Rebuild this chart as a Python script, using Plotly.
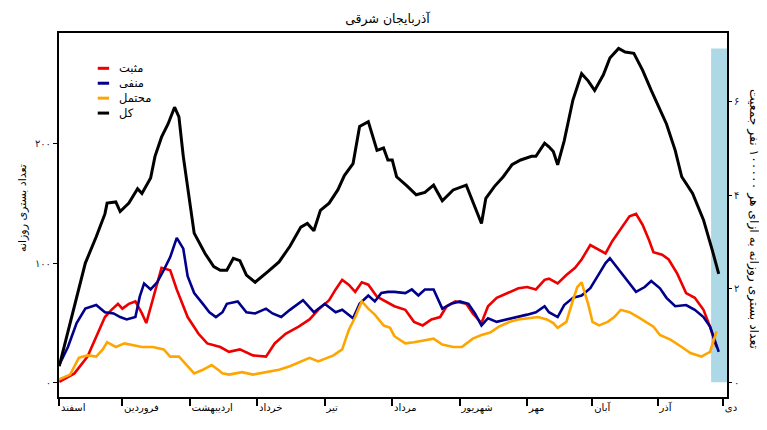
import plotly.graph_objects as go

# ---- data (days since 1 Esfand) ----
month_ticks = [0, 29, 60, 91, 122, 153, 184, 215, 245, 275, 305]
month_labels = ["اسفند", "فروردین", "اردیبهشت", "خرداد", "تیر", "مرداد",
                "شهریور", "مهر", "آبان", "آذر", "دی"]

total_day = [0,5,9,12,17,21,22,26,28,32,36,38,42,44,47,50,53,55,57,60,62,67,71,74,77,80,83,86,90,96,
             101,106,111,114,117,120,124,128,131,135,138,142,146,149,151,153,155,160,164,168,172,176,181,187,190,
             194,196,200,204,208,212,217,219,223,225,227,229,232,236,240,243,246,250,253,257,260,264,268,272,276,
             279,283,286,291,296,300,303]
total_val = [14,50,80,100,122,141,150,151,143,150,162,158,171,189,205,216,230,222,189,150,125,108,97,94,94,
             104,102,90,84,93,101,114,130,133,127,144,150,161,173,183,214,218,194,196,186,186,172,164,157,159,
             165,152,161,165,151,133,154,164,172,182,186,189,189,200,197,193,182,202,236,258,252,244,257,271,279,
             276,275,261,244,228,216,194,172,158,136,111,91]

pos_day = [0,7,13,17,21,24,27,29,32,35,38,40,43,47,51,54,59,64,68,74,78,83,89,95,99,104,110,115,119,124,
           127,130,133,136,139,142,146,149,154,159,163,167,171,175,178,182,187,190,194,197,201,206,211,215,219,
           223,225,229,233,237,240,244,248,251,254,258,262,265,268,271,273,277,280,284,288,292,296,299,302]
pos_val = [1,8,22,39,55,61,66,62,66,68,58,50,69,96,94,78,55,41,33,30,26,28,23,22,33,41,47,53,61,69,
           78,86,82,76,84,82,72,69,64,61,51,48,53,55,64,68,66,58,50,64,71,75,79,80,78,
           86,87,83,90,96,103,115,111,108,118,129,139,141,132,119,109,107,103,91,75,71,61,47,30]

neg_day = [0,4,8,12,17,21,25,28,31,35,37,39,42,45,48,51,54,57,59,62,66,69,72,75,77,82,86,90,95,98,
           102,106,112,117,122,127,130,135,138,142,145,148,151,154,159,162,165,168,172,176,180,184,188,191,194,
           197,201,206,211,215,219,223,225,229,232,236,240,244,248,251,253,256,259,262,265,269,272,276,279,283,
           288,292,296,299,303]
neg_val = [15,30,50,62,65,59,58,55,53,55,72,83,78,84,94,105,121,112,89,75,66,59,55,59,66,68,59,58,62,58,
           55,61,69,59,66,59,61,54,66,73,68,75,76,76,75,78,73,78,78,62,66,68,66,58,48,
           54,51,53,55,57,59,64,59,55,65,71,73,79,91,100,104,97,90,83,76,80,85,79,71,64,
           65,61,55,47,26]

prob_day = [0,5,9,13,17,20,22,26,30,35,38,43,48,51,55,59,62,66,70,73,75,78,84,89,95,101,106,111,115,119,
            123,126,130,133,136,139,142,145,149,152,154,159,163,168,172,176,181,185,190,194,198,202,207,211,216,
            220,224,227,229,233,236,238,240,243,245,248,252,255,258,262,266,270,273,276,281,286,290,295,299,302]
prob_val = [3,7,21,23,22,28,34,30,33,31,30,30,28,22,22,14,8,11,15,11,8,7,9,7,9,11,14,18,21,18,
            21,23,28,44,55,68,62,57,48,46,39,33,34,36,37,32,30,30,37,40,42,47,51,53,54,
            55,53,50,46,51,69,80,84,66,51,48,51,55,61,59,55,50,47,40,36,30,25,22,26,43]

left_ticks = [0, 100, 200]
left_labels = ["۰", "۱۰۰", "۲۰۰"]
right_ticks = [0, 2, 4, 6]
right_labels = ["۰", "۲", "۴", "۶"]

series_names = ["مثبت", "منفی", "محتمل", "کل"]
series_colors = ["#EE0000", "#00008B", "#FFA500", "#000000"]

FONT = "DejaVu Sans"

fig = go.Figure()
series = [(pos_day, pos_val), (neg_day, neg_val), (prob_day, prob_val), (total_day, total_val)]
widths = [2.6, 2.6, 2.6, 3]
for (d, v), name, col, w in zip(series, series_names, series_colors, widths):
    fig.add_trace(go.Scatter(x=d, y=v, mode="lines", name=name,
                             line=dict(color=col, width=w), showlegend=False,
                             hoverinfo="skip"))

# invisible trace so the secondary axis is drawn
fig.add_trace(go.Scatter(x=[0], y=[0], yaxis="y2", mode="markers",
                         marker=dict(opacity=0), showlegend=False, hoverinfo="skip"))

# light blue band at the end
fig.add_shape(type="rect", xref="x", yref="y", x0=299.5, x1=306.8, y0=0.5, y1=279,
              fillcolor="#ADD8E6", line=dict(width=0), layer="below")

# manual legend
leg_y = [0.903, 0.862, 0.821, 0.780]
for name, col, yy in zip(series_names, series_colors, leg_y):
    fig.add_shape(type="line", xref="paper", yref="paper", x0=0.058, x1=0.075, y0=yy, y1=yy,
                  line=dict(color=col, width=3))
    fig.add_annotation(xref="paper", yref="paper", x=0.087, y=yy, text=name, showarrow=False,
                       xanchor="left", yanchor="middle", font=dict(family=FONT, size=11.5, color="#000"))

# axis titles
fig.add_annotation(xref="paper", yref="paper", x=-0.055, y=0.52, text="تعداد بستری روزانه",
                   textangle=-90, showarrow=False, xanchor="center", yanchor="middle",
                   font=dict(family=FONT, size=11, color="#000"))
fig.add_annotation(xref="paper", yref="paper", x=1.04, y=0.49,
                   text="تعداد بستری روزانه به ازای هر ۱۰۰۰۰۰ نفر جمعیت",
                   textangle=90, showarrow=False, xanchor="center", yanchor="middle",
                   font=dict(family=FONT, size=12.3, color="#000"))

fig.update_layout(
    width=759, height=422,
    margin=dict(l=51, r=40, t=25, b=33),
    paper_bgcolor="white", plot_bgcolor="white",
    title=dict(text="آذربایجان شرقی", x=0.5, xanchor="center", y=0.975, yanchor="middle",
               font=dict(family=FONT, size=12.5, color="#000")),
    font=dict(family=FONT, size=10, color="#000"),
    xaxis=dict(range=[-0.1, 306.8], tickvals=month_ticks, ticktext=month_labels,
               ticks="outside", ticklen=7, tickwidth=1.5, tickcolor="#000",
               ticklabelposition="outside right",
               showline=True, linewidth=2, linecolor="#000", mirror=True,
               showgrid=False, zeroline=False,
               tickfont=dict(family=FONT, size=10, color="#000")),
    yaxis=dict(range=[-11.7, 291.9], tickvals=left_ticks, ticktext=left_labels,
               ticks="outside", ticklen=4, tickwidth=1, tickcolor="#000",
               showline=True, linewidth=2, linecolor="#000", mirror=True,
               showgrid=False, zeroline=False,
               tickfont=dict(family=FONT, size=10, color="#1a1a3a")),
    yaxis2=dict(range=[-0.30, 7.45], tickvals=right_ticks, ticktext=right_labels,
                overlaying="y", side="right",
                ticks="outside", ticklen=4, tickwidth=1, tickcolor="#000",
                showline=False, showgrid=False, zeroline=False,
                tickfont=dict(family=FONT, size=10, color="#1a1a3a")),
)

fig.write_html("out.html")
